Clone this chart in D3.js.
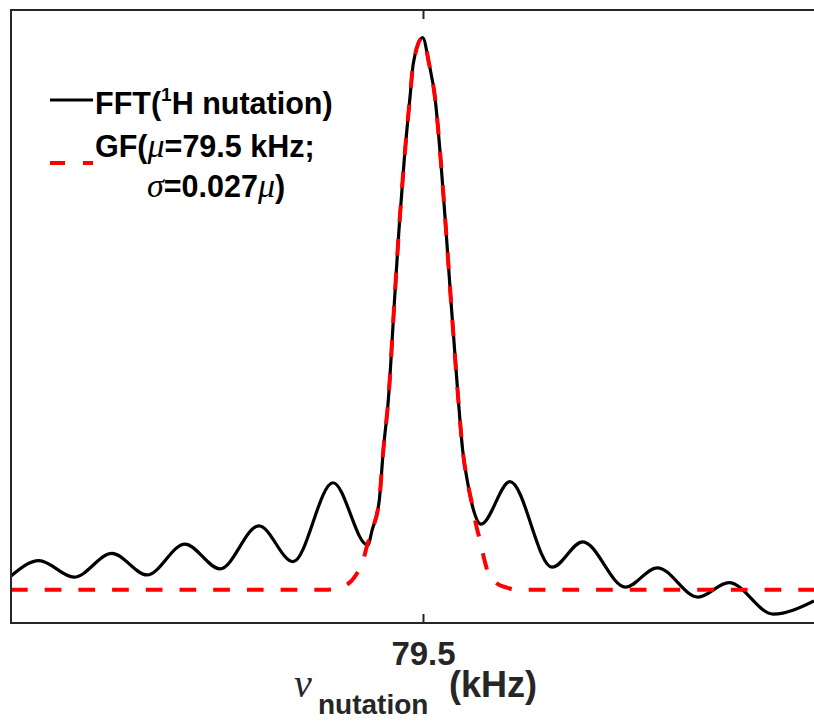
<!DOCTYPE html>
<html>
<head>
<meta charset="utf-8">
<script src="https://cdn.jsdelivr.net/npm/d3@7"></script>
<style>
  html, body { margin: 0; padding: 0; background: #fff; }
  svg { display: block; }
</style>
</head>
<body>
<svg id="chart" width="814" height="721"></svg>
<script>
// ---- data (frequency in kHz, normalised intensity) ----
const fftFreq = [43.36, 45.82, 48.89, 52.22, 55.29, 58.62, 61.69, 65.11, 68.10, 71.61,
  74.65, 75.05, 75.67, 76.02, 76.46, 77.00, 77.39, 77.83, 78.36, 78.65, 79.47,
  80.03, 80.55, 81.08, 81.52, 81.93, 82.60, 82.98, 83.42, 83.86, 84.59, 87.13,
  90.82, 93.51, 97.26, 100.05, 103.62, 106.34, 110.23, 113.80];
const fftAmp = [0.025, 0.053, 0.023, 0.066, 0.027, 0.083, 0.038, 0.116, 0.051, 0.194,
  0.081, 0.109, 0.163, 0.253, 0.344, 0.524, 0.651, 0.772, 0.892, 0.953, 1.000,
  0.953, 0.892, 0.772, 0.651, 0.530, 0.344, 0.253, 0.194, 0.150, 0.119, 0.196,
  0.041, 0.087, 0.005, 0.040, -0.013, 0.013, -0.044, -0.020];

const gfFreq = [43.36, 70.90, 72.48, 73.62, 74.26, 74.59, 75.05, 75.67, 76.02, 76.46,
  77.00, 77.39, 77.83, 78.36, 78.65, 79.47, 80.03, 80.55, 81.08, 81.52, 81.93,
  82.60, 82.98, 83.42, 83.86, 84.15, 84.50, 84.89, 85.23, 85.90, 86.84, 88.01, 113.80];
const gfAmp = [0, 0, 0.006, 0.027, 0.054, 0.080, 0.109, 0.163, 0.253, 0.344,
  0.524, 0.651, 0.772, 0.892, 0.953, 1.000, 0.953, 0.892, 0.772, 0.651, 0.530,
  0.344, 0.253, 0.194, 0.150, 0.118, 0.090, 0.054, 0.030, 0.013, 0.004, 0, 0];

const xTicks = [79.5];
const xTickLabels = ["79.5"];
const xDomain = [43.36, 113.8];
const yDomain = [-0.06, 1.05];

// ---- layout ----
const svg = d3.select("#chart");
const pL = 11, pT = 10, pB = 623, pR = 814;
const axisColor = "#262626";
const sans = "'Liberation Sans', Arial, sans-serif";
const serif = "'Liberation Serif', 'Times New Roman', serif";

const x = d3.scaleLinear().domain(xDomain).range([pL, pR]);
const y = d3.scaleLinear().domain(yDomain).range([pB, pT]);

svg.append("defs").append("clipPath").attr("id", "clip")
  .append("rect").attr("x", pL).attr("y", pT).attr("width", pR - pL + 10).attr("height", pB - pT);

const fftData = fftFreq.map((f, i) => [f, fftAmp[i]]);
const gfData = gfFreq.map((f, i) => [f, gfAmp[i]]);

const line = d3.line().x(d => x(d[0])).y(d => y(d[1])).curve(d3.curveMonotoneX);

const plot = svg.append("g").attr("clip-path", "url(#clip)");
plot.append("path").datum(fftData)
  .attr("d", line).attr("fill", "none").attr("stroke", "#000")
  .attr("stroke-width", 3.2).attr("stroke-linejoin", "round");
plot.append("path").datum(gfData)
  .attr("d", line).attr("fill", "none").attr("stroke", "#ff0000")
  .attr("stroke-width", 4).attr("stroke-dasharray", "16.7,17");

// ---- axes ----
const xAxisB = d3.axisBottom(x).tickValues(xTicks).tickFormat((d, i) => xTickLabels[i])
  .tickSizeInner(-9).tickSizeOuter(0).tickPadding(19);
const gB = svg.append("g").attr("transform", `translate(0,${pB})`).call(xAxisB);
gB.select(".domain").remove();
gB.selectAll(".tick line").attr("stroke", axisColor).attr("stroke-width", 2);
gB.selectAll(".tick text").attr("fill", axisColor)
  .style("font-family", sans).style("font-weight", "bold").style("font-size", "33px");

const xAxisT = d3.axisTop(x).tickValues(xTicks).tickFormat("").tickSizeInner(-9).tickSizeOuter(0);
const gT = svg.append("g").attr("transform", `translate(0,${pT})`).call(xAxisT);
gT.select(".domain").remove();
gT.selectAll(".tick line").attr("stroke", axisColor).attr("stroke-width", 2);

// frame lines (left, top, bottom)
svg.append("line").attr("x1", pL).attr("x2", pL).attr("y1", pT - 1).attr("y2", pB + 1)
  .attr("stroke", axisColor).attr("stroke-width", 2);
svg.append("line").attr("x1", pL - 1).attr("x2", pR).attr("y1", pT).attr("y2", pT)
  .attr("stroke", axisColor).attr("stroke-width", 2);
svg.append("line").attr("x1", pL - 1).attr("x2", pR).attr("y1", pB).attr("y2", pB)
  .attr("stroke", axisColor).attr("stroke-width", 2);

// ---- x label ----
svg.append("text").attr("x", 294).attr("y", 697)
  .style("font-family", serif).style("font-style", "italic").style("font-size", "40px")
  .attr("fill", axisColor).text("ν");
svg.append("text").attr("x", 318).attr("y", 714)
  .style("font-family", sans).style("font-weight", "bold").style("font-size", "28px")
  .attr("fill", axisColor).text("nutation");
svg.append("text").attr("x", 449).attr("y", 697)
  .style("font-family", sans).style("font-weight", "bold").style("font-size", "36px")
  .attr("fill", axisColor).text("(kHz)");

// ---- legend ----
const lg = svg.append("g");
lg.append("line").attr("x1", 50).attr("x2", 93).attr("y1", 100).attr("y2", 100)
  .attr("stroke", "#000").attr("stroke-width", 3.2);
lg.append("line").attr("x1", 50).attr("x2", 93).attr("y1", 163).attr("y2", 163)
  .attr("stroke", "#ff0000").attr("stroke-width", 4).attr("stroke-dasharray", "15,18");

function legendText(xp, yp, parts) {
  const t = lg.append("text").attr("x", xp).attr("y", yp).attr("fill", "#000")
    .style("font-size", "30.5px");
  parts.forEach(p => {
    const s = t.append("tspan").text(p.t);
    if (p.it) s.style("font-family", serif).style("font-style", "italic").style("font-weight", "normal").style("font-size", "34px");
    else s.style("font-family", sans).style("font-weight", "bold");
    if (p.sup) s.style("font-size", "19px").attr("dy", -13);
    if (p.down) s.attr("dy", 13);
  });
  return t;
}
legendText(95, 114, [{t: "FFT("}, {t: "1", sup: true}, {t: "H nutation)", down: true}]);
legendText(95, 157, [{t: "GF("}, {t: "μ", it: true}, {t: "=79.5 kHz;"}]);
legendText(147, 197, [{t: "σ", it: true}, {t: "=0.027"}, {t: "μ", it: true}, {t: ")"}]);
</script>
</body>
</html>
